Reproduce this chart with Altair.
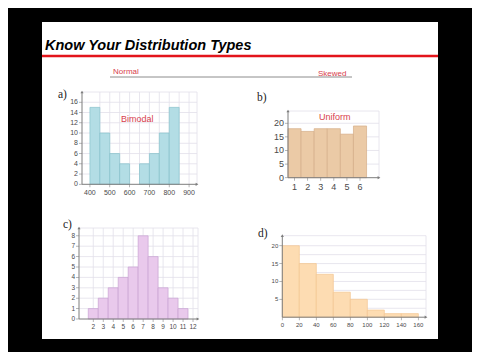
import altair as alt
import pandas as pd

# ---------------- data ----------------
title_text = "Know Your Distribution Types"
sub_left = "Normal"
sub_right = "Skewed"
panel_labels = ["a)", "b)", "c)", "d)"]
shape_names = ["Bimodal", "Uniform"]

a_start = [400, 450, 500, 550, 650, 700, 750, 800]
a_count = [15, 10, 6, 4, 4, 6, 10, 15]
a_xticks = [400, 500, 600, 700, 800, 900]
a_yticks = [0, 2, 4, 6, 8, 10, 12, 14, 16]

b_value = [1, 2, 3, 4, 5, 6]
b_count = [18, 17, 18, 18, 16, 19]
b_xticks = [1, 2, 3, 4, 5, 6]
b_yticks = [0, 5, 10, 15, 20]

c_value = [2, 3, 4, 5, 6, 7, 8, 9, 10, 11]
c_count = [1, 2, 3, 4, 5, 8, 6, 3, 2, 1]
c_xticks = [2, 3, 4, 5, 6, 7, 8, 9, 10, 11, 12]
c_yticks = [0, 1, 2, 3, 4, 5, 6, 7, 8]

d_start = [0, 20, 40, 60, 80, 100, 120, 140]
d_count = [20, 15, 12, 7, 5, 2, 1, 1]
d_xticks = [0, 20, 40, 60, 80, 100, 120, 140, 160]
d_yticks = [5, 10, 15, 20]

W, H = 464, 344
one = pd.DataFrame({"k": [0]})
AX = "#7d7d7d"
GRID = "#e2dfea"
LAB = "#4a4a4a"


def panel(starts, ends, counts, xdom, xrng, ydom, yrng, xticks, yticks,
          hgrid, vgrid, fill, stroke, lab_size=7):
    xs = alt.Scale(domain=xdom, range=xrng, nice=False, zero=False)
    ys = alt.Scale(domain=ydom, range=yrng, nice=False, zero=False)

    def X(f):
        return alt.X(f, scale=xs, axis=None)

    def Y(f):
        return alt.Y(f, scale=ys, axis=None)

    hg = pd.DataFrame({"x1": [xdom[0]] * len(hgrid),
                       "x2": [xdom[1]] * len(hgrid), "y": hgrid})
    vg = pd.DataFrame({"x": vgrid, "y1": [ydom[0]] * len(vgrid),
                       "y2": [ydom[1]] * len(vgrid)})
    bars = pd.DataFrame({"s": starts, "e": ends, "n": counts,
                         "z": [0] * len(counts)})
    xt = pd.DataFrame({"v": xticks, "lab": [str(t) for t in xticks],
                       "y0": [0] * len(xticks)})
    yt = pd.DataFrame({"v": yticks, "lab": [str(t) for t in yticks],
                       "x0": [xdom[0]] * len(yticks)})
    dom = pd.DataFrame({"x0": [xdom[0]], "x1": [xdom[1]],
                        "y0": [0], "y1": [ydom[1]]})

    hlines = alt.Chart(hg).mark_rule(color=GRID, strokeWidth=0.8).encode(
        x=X("x1:Q"), x2="x2:Q", y=Y("y:Q"))
    vlines = alt.Chart(vg).mark_rule(color=GRID, strokeWidth=0.8).encode(
        x=X("x:Q"), y=Y("y1:Q"), y2="y2:Q")
    rects = alt.Chart(bars).mark_rect(fill=fill, stroke=stroke, strokeWidth=0.7).encode(
        x=X("s:Q"), x2="e:Q", y=Y("n:Q"), y2="z:Q")
    xdomain = alt.Chart(dom).mark_rule(color=AX, strokeWidth=1).encode(
        x=X("x0:Q"), x2="x1:Q", y=Y("y0:Q"))
    ydomain = alt.Chart(dom).mark_rule(color=AX, strokeWidth=1).encode(
        x=X("x0:Q"), y=Y("y0:Q"), y2="y1:Q")
    up = alt.Chart(dom).mark_point(shape="triangle-up", size=10, filled=True,
                                   color=AX, opacity=1).encode(
        x=X("x0:Q"), y=Y("y1:Q"))
    right = alt.Chart(dom).mark_point(shape="triangle-right", size=10, filled=True,
                                      color=AX, opacity=1).encode(
        x=X("x1:Q"), y=Y("y0:Q"))
    xtick = alt.Chart(xt).mark_tick(color=AX, orient="vertical", size=3,
                                    thickness=0.8, yOffset=1.5).encode(
        x=X("v:Q"), y=Y("y0:Q"))
    ytick = alt.Chart(yt).mark_tick(color=AX, orient="horizontal", size=3,
                                    thickness=0.8, xOffset=-1.5).encode(
        x=X("x0:Q"), y=Y("v:Q"))
    xlab = alt.Chart(xt).mark_text(fontSize=lab_size, color=LAB, font="Liberation Sans",
                                   baseline="top", align="center", dy=5).encode(
        x=X("v:Q"), y=Y("y0:Q"), text="lab:N")
    ylab = alt.Chart(yt).mark_text(fontSize=lab_size, color=LAB, font="Liberation Sans",
                                   baseline="middle", align="right", dx=-4).encode(
        x=X("x0:Q"), y=Y("v:Q"), text="lab:N")
    return alt.layer(hlines, vlines, rects, xdomain, ydomain, up, right,
                     xtick, ytick, xlab, ylab)


pa = panel(a_start, [s + 50 for s in a_start], a_count,
           [360, 940], [74, 189], [0, 18], [176.3, 84],
           a_xticks, a_yticks, list(range(2, 19, 2)),
           [450, 500, 550, 600, 650, 700, 750, 800, 850, 900, 940],
           "#b3dde5", "#86c2cc")
pb = panel([v - 0.5 for v in b_value], [v + 0.5 for v in b_value], b_count,
           [0.5, 7.45], [280, 371], [0, 24.5], [169.7, 103],
           b_xticks, b_yticks, [5, 10, 15, 20, 24.5], [7.45],
           "#ebcaa6", "#d6ad88", lab_size=9)
pc = panel([v - 0.5 for v in c_value], [v + 0.5 for v in c_value], c_count,
           [0.57, 12.5], [71, 190], [0, 8.75], [311, 220],
           c_xticks, c_yticks, [1, 2, 3, 4, 5, 6, 7, 8, 8.75],
           [2, 3, 4, 5, 6, 7, 8, 9, 10, 11, 12, 12.5],
           "#e9c9ec", "#c9a2d2", lab_size=6.5)
pd_ = panel(d_start, [s + 20 for s in d_start], d_count,
            [0, 169], [274.3, 418], [0, 22.8], [309.2, 227.7],
            d_xticks, d_yticks, [2.5, 5, 7.5, 10, 12.5, 15, 17.5, 20, 22.8],
            [169], "#fddcb2", "#f3c690", lab_size=6)

slide = alt.Chart(one).mark_rect(color="white").encode(
    x=alt.value(34), x2=alt.value(430), y=alt.value(14), y2=alt.value(331))
red_rule = alt.Chart(one).mark_rule(color="#e3141b", strokeWidth=2.5).encode(
    x=alt.value(34), x2=alt.value(430), y=alt.value(48))
gray_rule = alt.Chart(one).mark_rule(color="#8c8c8c", strokeWidth=1).encode(
    x=alt.value(102), x2=alt.value(344), y=alt.value(69))
title = alt.Chart(one).mark_text(
    align="left", baseline="alphabetic", font="Liberation Sans",
    fontStyle="italic", fontWeight="bold", fontSize=14.5, color="black").encode(
    x=alt.value(37), y=alt.value(42), text=alt.value(title_text))


def red_text(txt, x, y, size):
    return alt.Chart(one).mark_text(
        align="left", baseline="middle", font="Liberation Sans",
        fontSize=size, color="#d8404c").encode(
        x=alt.value(x), y=alt.value(y), text=alt.value(txt))


def serif_text(txt, x, y):
    return alt.Chart(one).mark_text(
        align="left", baseline="middle", font="Liberation Serif",
        fontSize=11.5, color="#222222").encode(
        x=alt.value(x), y=alt.value(y), text=alt.value(txt))


texts = [
    red_text(sub_left, 105, 64, 8),
    red_text(sub_right, 310, 66, 8),
    red_text(shape_names[0], 113, 111, 9),
    red_text(shape_names[1], 311, 109, 9),
    serif_text(panel_labels[0], 50, 87),
    serif_text(panel_labels[1], 249, 90),
    serif_text(panel_labels[2], 55, 217),
    serif_text(panel_labels[3], 250, 226),
]

chart = alt.layer(slide, red_rule, gray_rule, title, pa, pb, pc, pd_, *texts).resolve_scale(
    x="independent", y="independent").properties(
    width=W, height=H, background="black", padding=0,
    autosize=alt.AutoSizeParams(type="none")).configure_view(stroke=None)

chart.save("out.html", embed_options={"renderer": "svg", "actions": False})
